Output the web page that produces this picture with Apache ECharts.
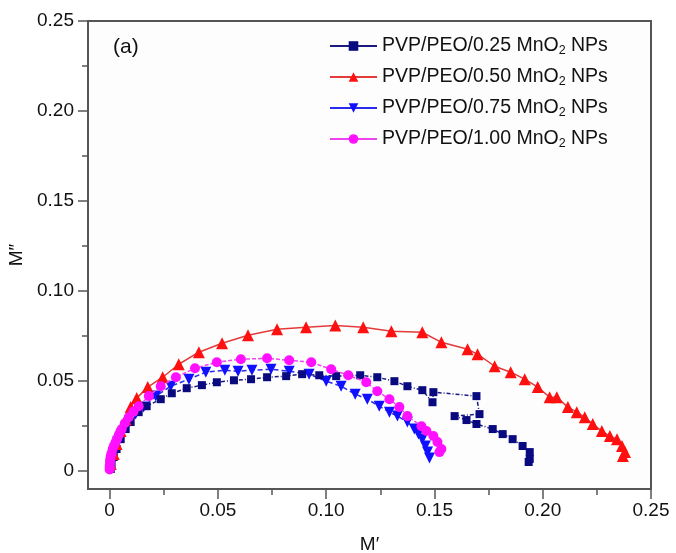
<!DOCTYPE html>
<html>
<head>
<meta charset="utf-8">
<script src="https://cdn.jsdelivr.net/npm/echarts@6/dist/echarts.min.js"></script>
<style>html,body{margin:0;padding:0;background:#fff;}#c{width:676px;height:553px;}</style>
</head>
<body>
<div id="c"></div>
<script>
var FONT = '"Liberation Sans", Arial, Helvetica, sans-serif';
var majorTicks = [0, 0.05, 0.10, 0.15, 0.20, 0.25];
var minorTicks = [0.025, 0.075, 0.125, 0.175, 0.225];
var seriesNames = ['PVP/PEO/0.25 MnO2 NPs', 'PVP/PEO/0.50 MnO2 NPs', 'PVP/PEO/0.75 MnO2 NPs', 'PVP/PEO/1.00 MnO2 NPs'];

var mn025 = [
 [0.0005,0.0011],[0.0009,0.0039],[0.0019,0.0078],[0.0032,0.0122],[0.0051,0.0177],[0.0074,0.0233],
 [0.0097,0.0272],[0.0134,0.0327],[0.0171,0.0360],[0.0236,0.0399],[0.0287,0.0432],[0.0356,0.0460],
 [0.0426,0.0477],[0.0495,0.0493],[0.0574,0.0504],[0.0653,0.0510],[0.0727,0.0521],[0.0815,0.0527],
 [0.0889,0.0538],[0.0968,0.0532],[0.1046,0.0527],[0.1157,0.0532],[0.1236,0.0521],[0.1315,0.0499],
 [0.1375,0.0471],[0.1444,0.0449],[0.1491,0.0382],[0.1495,0.0438],[0.1694,0.0416],[0.1708,0.0316],
 [0.1593,0.0305],[0.1648,0.0283],[0.1694,0.0261],[0.1769,0.0233],[0.1815,0.0205],[0.1861,0.0177],
 [0.1907,0.0139],[0.1940,0.0105],[0.1940,0.0067],[0.1935,0.0050]
];
var mn050 = [
 [0.0005,0.0039],[0.0019,0.0094],[0.0032,0.0150],[0.0051,0.0222],[0.0074,0.0288],[0.0097,0.0355],
 [0.0125,0.0405],[0.0176,0.0466],[0.0245,0.0521],[0.0319,0.0593],[0.0412,0.0660],[0.0519,0.0710],
 [0.0639,0.0754],[0.0773,0.0787],[0.0907,0.0798],[0.1042,0.0809],[0.1171,0.0798],[0.1301,0.0776],
 [0.1444,0.0771],[0.1532,0.0715],[0.1653,0.0676],[0.1699,0.0649],[0.1778,0.0582],[0.1852,0.0549],
 [0.1917,0.0510],[0.1977,0.0466],[0.2032,0.0410],[0.2065,0.0410],[0.2116,0.0355],[0.2157,0.0327],
 [0.2194,0.0299],[0.2231,0.0261],[0.2273,0.0222],[0.2310,0.0194],[0.2343,0.0177],[0.2366,0.0139],
 [0.2380,0.0105],[0.2370,0.0083]
];
var mn075 = [
 [0.0005,0.0033],[0.0019,0.0094],[0.0037,0.0161],[0.0056,0.0205],[0.0079,0.0249],[0.0120,0.0316],
 [0.0157,0.0355],[0.0213,0.0416],[0.0282,0.0471],[0.0366,0.0510],[0.0444,0.0549],[0.0532,0.0560],
 [0.0593,0.0554],[0.0657,0.0560],[0.0745,0.0565],[0.0829,0.0554],[0.0921,0.0538],[0.1000,0.0499],
 [0.1069,0.0471],[0.1134,0.0427],[0.1190,0.0399],[0.1245,0.0360],[0.1292,0.0327],[0.1329,0.0305],
 [0.1375,0.0272],[0.1407,0.0233],[0.1426,0.0205],[0.1444,0.0177],[0.1458,0.0139],[0.1468,0.0105],
 [0.1477,0.0072]
];
var mn100 = [
 [0.0000,0.0008],[0.0000,0.0022],[0.0001,0.0036],[0.0002,0.0050],[0.0003,0.0065],[0.0005,0.0083],
 [0.0009,0.0100],[0.0014,0.0122],[0.0020,0.0140],[0.0028,0.0161],[0.0035,0.0180],[0.0042,0.0200],
 [0.0049,0.0217],[0.0056,0.0233],[0.0070,0.0265],[0.0088,0.0299],[0.0110,0.0330],[0.0134,0.0360],
 [0.0181,0.0416],[0.0236,0.0471],[0.0306,0.0521],[0.0394,0.0571],[0.0495,0.0604],[0.0606,0.0621],
 [0.0727,0.0626],[0.0829,0.0615],[0.0931,0.0604],[0.1023,0.0565],[0.1102,0.0532],[0.1185,0.0493],
 [0.1236,0.0443],[0.1292,0.0399],[0.1338,0.0355],[0.1375,0.0305],[0.1440,0.0249],[0.1463,0.0222],
 [0.1495,0.0194],[0.1514,0.0161],[0.1532,0.0122],[0.1523,0.0105]
];

var AX = '#555555';
function tickFmt(v){ return Math.abs(v) < 1e-9 ? '0' : v.toFixed(2); }
function mainAxis(name, isX){
  return {
    type:'value', min:-0.01, max:0.25, position: isX ? 'bottom' : 'left',
    name:name, nameLocation:'middle', nameGap: isX ? 46 : 60, nameRotate: isX ? 0 : 90,
    nameTextStyle:{fontFamily:FONT, fontSize:19, color:'#111'},
    axisLine:{show:true, onZero:false, lineStyle:{color:AX, width:2}},
    axisTick:{show:true, inside:false, length:10, customValues:majorTicks, lineStyle:{color:AX, width:1.5}},
    axisLabel:{show:true, margin: isX ? 12 : 14, customValues:majorTicks, formatter:tickFmt,
      fontFamily:FONT, fontSize:19, color:'#111', showMinLabel:true, showMaxLabel:true},
    splitLine:{show:false}
  };
}
function minorAxis(isX){
  return {
    type:'value', min:-0.01, max:0.25, position: isX ? 'bottom' : 'left',
    axisLine:{show:false, onZero:false},
    axisTick:{show:true, inside:false, length:6, customValues:minorTicks, lineStyle:{color:AX, width:1.5}},
    axisLabel:{show:false}, splitLine:{show:false}
  };
}

var colors = ['#0a0a80', '#ff1010', '#1010ff', '#ff10ff'];
var lineColors = ['#1a1a80', '#e43a3a', '#2a2aee', '#ee44ee'];
var symbols = ['rect', 'triangle', 'triangle', 'circle'];
var symbolSizes = [8, 12, 11, 10];
var rotations = [0, 0, 180, 0];
var dashes = [[4,2,1,2], 'solid', [5,3], [4,2]];
var zs = [3, 4, 2, 5];
var datas = [mn025, mn050, mn075, mn100];

var series = datas.map(function(d, i){
  return {
    name: seriesNames[i], type:'line', data:d, xAxisIndex:0, yAxisIndex:0,
    symbol: symbols[i], symbolSize: symbolSizes[i], symbolRotate: rotations[i],
    showAllSymbol:true, animation:false,
    itemStyle:{color: colors[i]},
    lineStyle:{color: lineColors[i], width:1.5, type: dashes[i]},
    z: zs[i]
  };
});

var chart = echarts.init(document.getElementById('c'), null, {renderer:'canvas'});
chart.setOption({
  backgroundColor:'#ffffff',
  animation:false,
  grid:{left:88, top:21, right:25, bottom:64, containLabel:false, outerBoundsMode:'none',
    show:true, borderColor:AX, borderWidth:2, backgroundColor:'#fdfdfd'},
  xAxis:[mainAxis('M\u2032', true), minorAxis(true)],
  yAxis:[mainAxis('M\u2033', false), minorAxis(false)],
  legend:{
    orient:'vertical', left:324, top:31, itemWidth:47, itemHeight:12, itemGap:10,
    data: seriesNames,
    lineStyle:{type:'solid'},
    formatter:function(n){ return n.replace('MnO2', 'MnO{sub|2}'); },
    textStyle:{fontFamily:FONT, fontSize:19.5, color:'#111',
      rich:{sub:{fontFamily:FONT, fontSize:12.5, color:'#111', verticalAlign:'bottom', padding:[9,0,0,0]}}}
  },
  graphic:[{type:'text', left:113, top:37, style:{text:'(a)', fontFamily:FONT, fontSize:21, fill:'#111'}}],
  series: series
});
</script>
</body>
</html>
